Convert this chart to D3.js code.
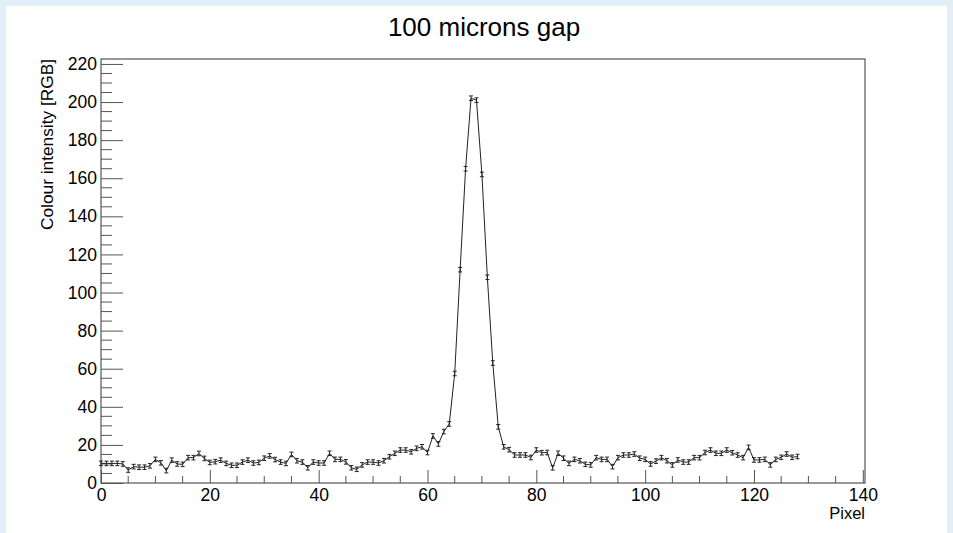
<!DOCTYPE html>
<html>
<head>
<meta charset="utf-8">
<script src="https://cdn.jsdelivr.net/npm/d3@7"></script>
<style>
  body { margin: 0; background: #fff; }
  text { font-family: "Liberation Sans", Arial, sans-serif; fill: #000; }
</style>
</head>
<body>
<div id="chart"></div>
<script>
//////colour intensity profile across the gap, ROOT style histogram with error bars

////pixel index 0..128
const pixels = d3.range(0, 129);
////intensity, one per pixel
const intensity = [
  10.3, 10.3, 10.3, 10.3, 10.0, 6.8, 8.6, 8.3, 8.3, 9.0,
  12.4, 10.6, 6.5, 12.0, 10.0, 9.8, 13.3, 13.3, 15.5, 12.9,
  10.8, 11.2, 12.0, 10.3, 9.3, 9.3, 11.0, 12.0, 10.5, 10.8,
  13.0, 14.2, 12.3, 11.0, 10.3, 15.0, 11.7, 11.0, 8.0, 11.0,
  10.5, 10.5, 15.6, 12.4, 12.4, 11.1, 8.0, 7.2, 9.5, 11.0,
  11.0, 10.5, 11.7, 13.8, 15.6, 17.3, 17.3, 16.4, 18.2, 19.0,
  16.0, 24.7, 20.5, 27.0, 31.0, 57.5, 112, 165, 202, 201,
  162, 108, 63, 29.5, 19.0, 17.5, 14.7, 14.7, 14.7, 13.4,
  17.3, 15.9, 16.0, 8.0, 15.6, 13.0, 10.3, 12.4, 11.7, 9.8,
  9.5, 13.3, 12.4, 12.4, 8.6, 13.3, 14.7, 14.7, 15.2, 13.0,
  12.4, 10.0, 11.5, 13.3, 11.7, 9.5, 12.1, 11.0, 11.0, 13.3,
  13.3, 16.0, 17.3, 15.6, 15.6, 17.3, 15.9, 14.7, 13.3, 18.7,
  12.1, 12.1, 12.4, 9.5, 12.4, 13.5, 15.2, 13.5, 13.9
];
const errHalf = 1.2;   ////half length of error bar, in intensity units

const xMajor = [0, 20, 40, 60, 80, 100, 120, 140];
const yMajor = [0, 20, 40, 60, 80, 100, 120, 140, 160, 180, 200, 220];

const titleText = "100 microns gap";
const xTitle = "Pixel";
const yTitle = "Colour intensity [RGB]";

var W = 953, H = 533;
var frame = {left: 101, right: 865, top: 59, bottom: 483};

var svg = d3.select("#chart").append("svg")
    .attr("width", W)
    .attr("height", H);

////light blue canvas border, white pad
svg.append("rect").attr("width", W).attr("height", H).attr("fill", "#e2eef8");
svg.append("rect").attr("x", 6).attr("y", 6).attr("width", W - 12).attr("height", H - 6).attr("fill", "#fff");

var x = d3.scaleLinear().domain([0, 140.4]).range([frame.left, frame.right]);
var y = d3.scaleLinear().domain([0, 222.6]).range([frame.bottom, frame.top]);

var data = pixels.map((p, i) => ({px: p, v: intensity[i]}));

////frame box
svg.append("rect")
    .attr("x", frame.left).attr("y", frame.top)
    .attr("width", frame.right - frame.left)
    .attr("height", frame.bottom - frame.top)
    .attr("fill", "none")
    .attr("stroke", "#333")
    .attr("stroke-width", 1);

////x axis ticks, drawn inward like ROOT
var xMinor = d3.range(0, 141, 5).filter(d => xMajor.indexOf(d) < 0);
var xAxis = d3.axisBottom(x).tickValues(xMajor).tickSize(-13).tickPadding(18).tickFormat(d3.format("d"));
var gx = svg.append("g").attr("transform", "translate(0," + frame.bottom + ")").call(xAxis);
gx.select(".domain").remove();
gx.selectAll(".tick line").attr("stroke", "#555");
gx.selectAll(".tick text").style("font-size", "17.5px").attr("dy", "0");
gx.selectAll(".minor").data(xMinor).enter().append("line")
    .attr("class", "minor")
    .attr("x1", d => x(d)).attr("x2", d => x(d))
    .attr("y1", 0).attr("y2", -7)
    .attr("stroke", "#555");

////y axis ticks
var yMinor = d3.range(0, 223, 5).filter(d => yMajor.indexOf(d) < 0);
var yAxis = d3.axisLeft(y).tickValues(yMajor).tickSize(-22).tickPadding(5).tickFormat(d3.format("d"));
var gy = svg.append("g").attr("transform", "translate(" + frame.left + ",0)").call(yAxis);
gy.select(".domain").remove();
gy.selectAll(".tick line").attr("stroke", "#555");
gy.selectAll(".tick text").style("font-size", "17.5px").attr("x", -4);
gy.selectAll(".minor").data(yMinor).enter().append("line")
    .attr("class", "minor")
    .attr("y1", d => y(d)).attr("y2", d => y(d))
    .attr("x1", 0).attr("x2", 11)
    .attr("stroke", "#555");

////polyline through the points
var line = d3.line().x(d => x(d.px)).y(d => y(d.v));
svg.append("path")
    .datum(data)
    .attr("d", line)
    .attr("fill", "none")
    .attr("stroke", "#222")
    .attr("stroke-width", 1);

////error bars with little caps
var bars = svg.append("g").attr("class", "errs")
    .selectAll("g").data(data).enter().append("g");
bars.append("line")
    .attr("x1", d => x(d.px)).attr("x2", d => x(d.px))
    .attr("y1", d => y(d.v - errHalf)).attr("y2", d => y(d.v + errHalf))
    .attr("stroke", "#222");
bars.append("line")
    .attr("x1", d => x(d.px) - 2).attr("x2", d => x(d.px) + 2)
    .attr("y1", d => y(d.v - errHalf)).attr("y2", d => y(d.v - errHalf))
    .attr("stroke", "#222");
bars.append("line")
    .attr("x1", d => x(d.px) - 2).attr("x2", d => x(d.px) + 2)
    .attr("y1", d => y(d.v + errHalf)).attr("y2", d => y(d.v + errHalf))
    .attr("stroke", "#222");

////titles
svg.append("text")
    .text(titleText)
    .attr("x", 484).attr("y", 36)
    .attr("text-anchor", "middle")
    .style("font-size", "26px");

svg.append("text")
    .text(xTitle)
    .attr("x", frame.right).attr("y", 519)
    .attr("text-anchor", "end")
    .style("font-size", "16.5px");

svg.append("text")
    .text(yTitle)
    .attr("transform", "translate(53," + frame.top + ") rotate(-90)")
    .attr("text-anchor", "end")
    .style("font-size", "17.3px");
</script>
</body>
</html>
